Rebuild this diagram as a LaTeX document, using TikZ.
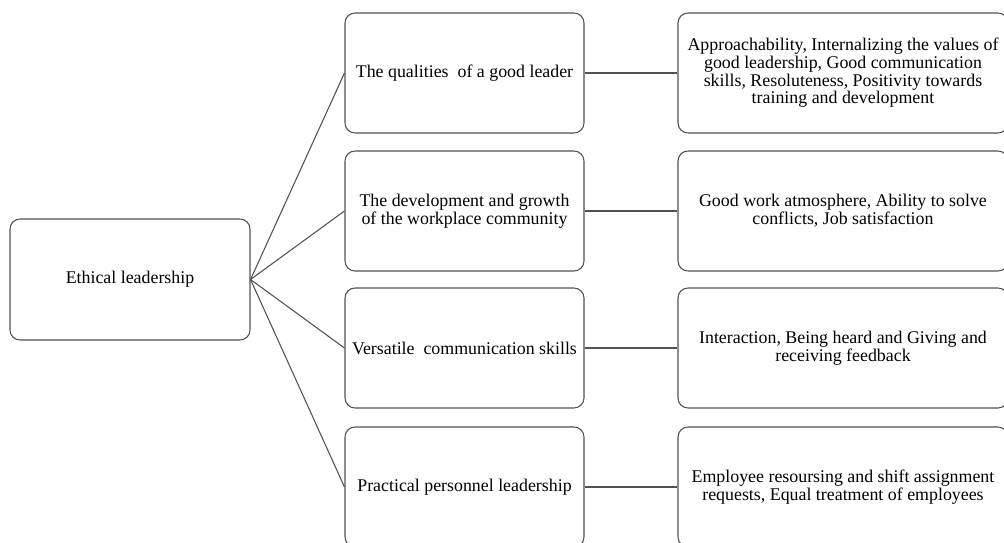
\documentclass[tikz,border=0pt]{standalone}
\usepackage{fontspec}
\setmainfont{Liberation Serif}
\usepackage{tikz}
\newcommand\lineGray{black!68}

\begin{document}
\begin{tikzpicture}[x=0.75pt, y=-0.75pt,
        box/.style={draw=\lineGray, line width=0.8pt, rounded corners=7.5pt,
            align=center, inner sep=0pt, minimum height=90pt,
            font=\fontsize{13.4}{11.25}\selectfont},
        leadbox/.style={box, minimum width=180pt, minimum height=90.75pt},
        themebox/.style={box, minimum width=179.25pt},
        detailbox/.style={box, minimum width=247.5pt},
        link/.style={draw=\lineGray, line width=0.8pt}
    ]
    \useasboundingbox (0, 0) rectangle (1004, 543);
    \clip (0, 0) rectangle (1004, 543);

    \node[leadbox] (lead) at (130, 279.5) {Ethical leadership};

    \node[themebox] (qual) at (464.5, 73)  {The qualities\ \ of a good leader};
    \node[themebox] (grow) at (464.5, 211) {The development and growth\\of the workplace community};
    \node[themebox] (comm) at (464.5, 348) {Versatile\ \ communication skills};
    \node[themebox] (prac) at (464.5, 487) {Practical personnel leadership};

    \node[detailbox] (qualD) at (843, 73)  {Approachability, Internalizing the values of\\good leadership, Good communication\\skills, Resoluteness, Positivity towards\\training and development};
    \node[detailbox] (growD) at (843, 211) {Good work atmosphere, Ability to solve\\conflicts, Job satisfaction};
    \node[detailbox] (commD) at (843, 348) {Interaction, Being heard and Giving and\\receiving feedback};
    \node[detailbox] (pracD) at (843, 487) {Employee resoursing and shift assignment\\requests, Equal treatment of employees};

    \draw[link] (lead.east) -- (qual.west);
    \draw[link] (lead.east) -- (grow.west);
    \draw[link] (lead.east) -- (comm.west);
    \draw[link] (lead.east) -- (prac.west);

    \draw[link] (qual) -- (qualD);
    \draw[link] (grow) -- (growD);
    \draw[link] (comm) -- (commD);
    \draw[link] (prac) -- (pracD);
\end{tikzpicture}
\end{document}
